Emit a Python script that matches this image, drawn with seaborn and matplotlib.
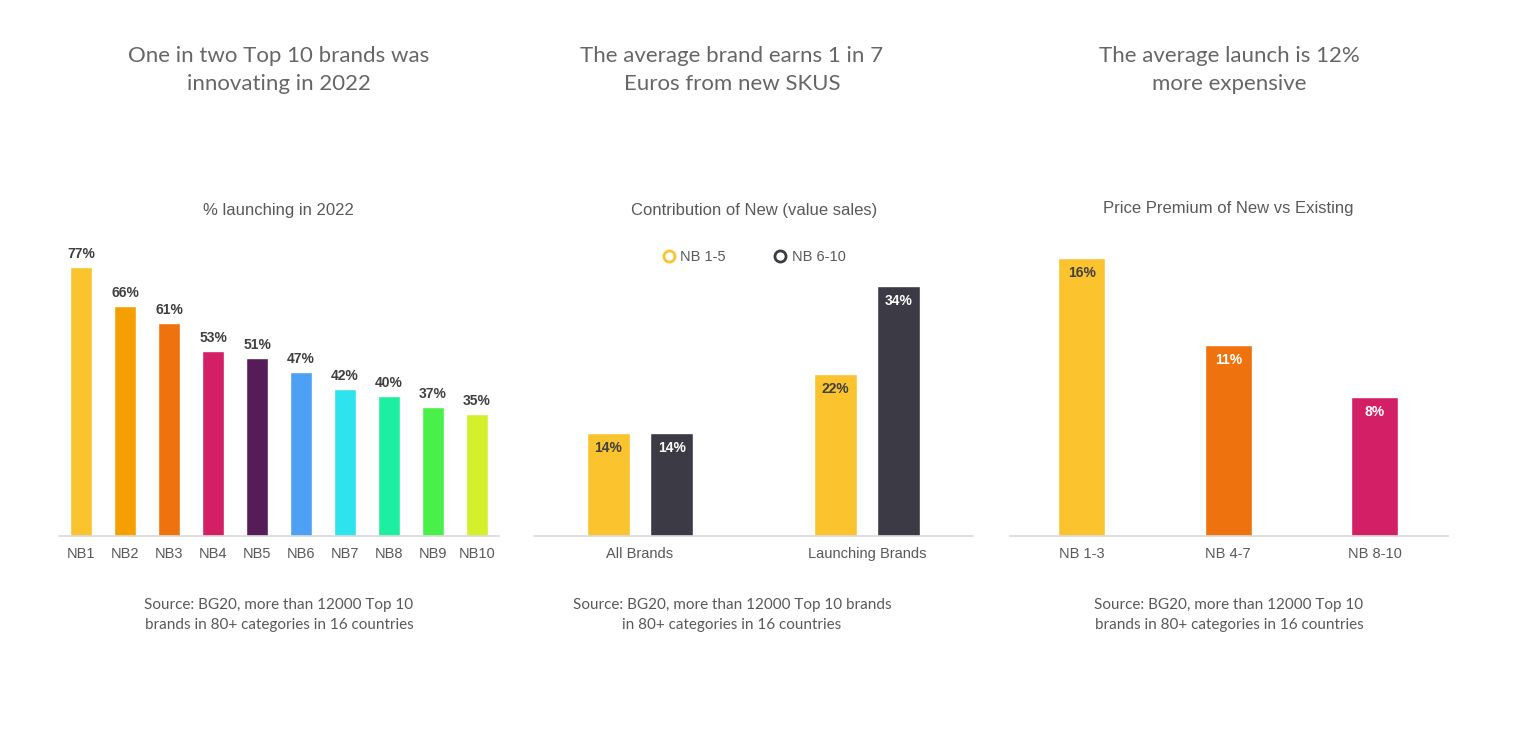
import pandas as pd
import matplotlib.pyplot as plt
import seaborn as sns
from matplotlib.lines import Line2D

# ── Data ──────────────────────────────────────────────────────────────
launch_brands = ['NB1', 'NB2', 'NB3', 'NB4', 'NB5', 'NB6', 'NB7', 'NB8', 'NB9', 'NB10']
launch_pct = [77, 66, 61, 53, 51, 47, 42, 40, 37, 35]
launch_colors = ['#FBC42F', '#F5A000', '#EE730E', '#D31F66', '#561C57',
                 '#4EA0F5', '#2CE3EE', '#1EEEA0', '#4AF04A', '#D4F02A']

contrib_groups = ['All Brands', 'Launching Brands']
contrib_series = ['NB 1-5', 'NB 6-10']
contrib_nb1_5 = [14, 22]
contrib_nb6_10 = [14, 34]
contrib_colors = ['#FBC42F', '#3B3A45']

premium_groups = ['NB 1-3', 'NB 4-7', 'NB 8-10']
premium_pct = [16, 11, 8]
premium_colors = ['#FBC42F', '#EE730E', '#D31F66']

headlines = ['One in two Top 10 brands was\ninnovating in 2022',
             'The average brand earns 1 in 7\nEuros from new SKUS',
             'The average launch is 12%\nmore expensive']
subtitles = ['% launching in 2022', 'Contribution of New (value sales)',
             'Price Premium of New vs Existing']
source_txt = ['Source: BG20, more than 12000 Top 10\nbrands in 80+ categories in 16 countries',
              'Source: BG20, more than 12000 Top 10 brands\nin 80+ categories in 16 countries',
              'Source: BG20, more than 12000 Top 10\nbrands in 80+ categories in 16 countries']

# ── Style ─────────────────────────────────────────────────────────────
sns.set_style('white')
plt.rcParams['font.family'] = ['Liberation Sans', 'DejaVu Sans']

W, H = 1536, 737
fig = plt.figure(figsize=(W / 100, H / 100), dpi=100)
fig.patch.set_facecolor('white')

GRAY = '#595959'
DARK = '#404040'
BASE = '#D9D9D9'


def px_axes(x0, x1, top, bottom):
    return fig.add_axes([x0 / W, 1 - bottom / H, (x1 - x0) / W, (bottom - top) / H])


def tidy(ax):
    sns.despine(ax=ax, left=True)
    ax.spines['bottom'].set_color(BASE)
    ax.spines['bottom'].set_linewidth(1.2)
    ax.set_yticks([])
    ax.set_xlabel('')
    ax.set_ylabel('')
    ax.tick_params(axis='x', length=0, labelsize=10.5, labelcolor=GRAY, pad=8)


# ── Chart 1: % launching ──────────────────────────────────────────────
ax1 = px_axes(59, 499, 240, 536)
df1 = pd.DataFrame({'brand': launch_brands, 'pct': launch_pct})
sns.barplot(data=df1, x='brand', y='pct', hue='brand', palette=launch_colors,
            saturation=1, width=0.5, legend=False, ax=ax1)
ax1.set_xlim(-0.5, 9.5)
ax1.set_ylim(0, 296 / 3.49)
for i, v in enumerate(launch_pct):
    ax1.annotate(f'{v}%', (i, v), xytext=(0, 13), textcoords='offset pixels',
                 ha='center', va='center', fontsize=10, fontweight='bold', color=DARK)
tidy(ax1)

# ── Chart 2: contribution of new ──────────────────────────────────────
ax2 = px_axes(534, 973, 240, 536)
df2 = pd.DataFrame({
    'group': contrib_groups * 2,
    'series': [contrib_series[0]] * 2 + [contrib_series[1]] * 2,
    'pct': contrib_nb1_5 + contrib_nb6_10,
})
sns.barplot(data=df2, x='group', y='pct', hue='series', palette=contrib_colors,
            saturation=1, width=0.56, gap=0.32, legend=False, ax=ax2)
ax2.set_xlim(-0.467, 1.467)
ax2.set_ylim(0, 296 / 7.35)
for j, vals in enumerate([contrib_nb1_5, contrib_nb6_10]):
    for i, v in enumerate(vals):
        ax2.annotate(f'{v}%', (i + (j - 0.5) * 0.28, v), xytext=(0, -15),
                     textcoords='offset pixels', ha='center', va='center',
                     fontsize=10, fontweight='bold',
                     color=DARK if j == 0 else 'white')
handles = [Line2D([], [], marker='o', linestyle='', markersize=8,
                  markerfacecolor='none', markeredgecolor=c, markeredgewidth=2)
           for c in contrib_colors]
leg = ax2.legend(handles, contrib_series, loc='center', bbox_to_anchor=(0.5, 0.943),
                 ncol=2, frameon=False, fontsize=10.5, columnspacing=3.2,
                 handletextpad=0.3, handlelength=1)
for t in leg.get_texts():
    t.set_color(GRAY)
tidy(ax2)

# ── Chart 3: price premium ────────────────────────────────────────────
ax3 = px_axes(1010, 1448, 240, 536)
df3 = pd.DataFrame({'group': premium_groups, 'pct': premium_pct})
sns.barplot(data=df3, x='group', y='pct', hue='group', palette=premium_colors,
            saturation=1, width=0.32, legend=False, ax=ax3)
ax3.set_xlim(-0.49, 2.5)
ax3.set_ylim(0, 296 / 17.4)
for i, v in enumerate(premium_pct):
    ax3.annotate(f'{v}%', (i, v), xytext=(0, -15), textcoords='offset pixels',
                 ha='center', va='center', fontsize=10, fontweight='bold',
                 color=DARK if i == 0 else 'white')
tidy(ax3)

# ── Headlines, subtitles, sources ─────────────────────────────────────
centers = [279, 732, 1229]
sub_x = [278, 754, 1228]
sub_y = [210, 211, 208]
for cx, sx, head, sub, src, sy in zip(centers, sub_x, headlines, subtitles,
                                      source_txt, sub_y):
    fig.text(cx / W, 1 - 70 / H, head, ha='center', va='center', fontsize=16,
             color='#666666', family=['Lato', 'DejaVu Sans'], linespacing=1.5)
    fig.text(sx / W, 1 - sy / H, sub, ha='center', va='center', fontsize=12,
             color=GRAY)
    fig.text(cx / W, 1 - 615 / H, src, ha='center', va='center', fontsize=11,
             color=GRAY, family=['Lato', 'DejaVu Sans'], linespacing=1.5)

fig.savefig('out.png', dpi=100, facecolor='white')
